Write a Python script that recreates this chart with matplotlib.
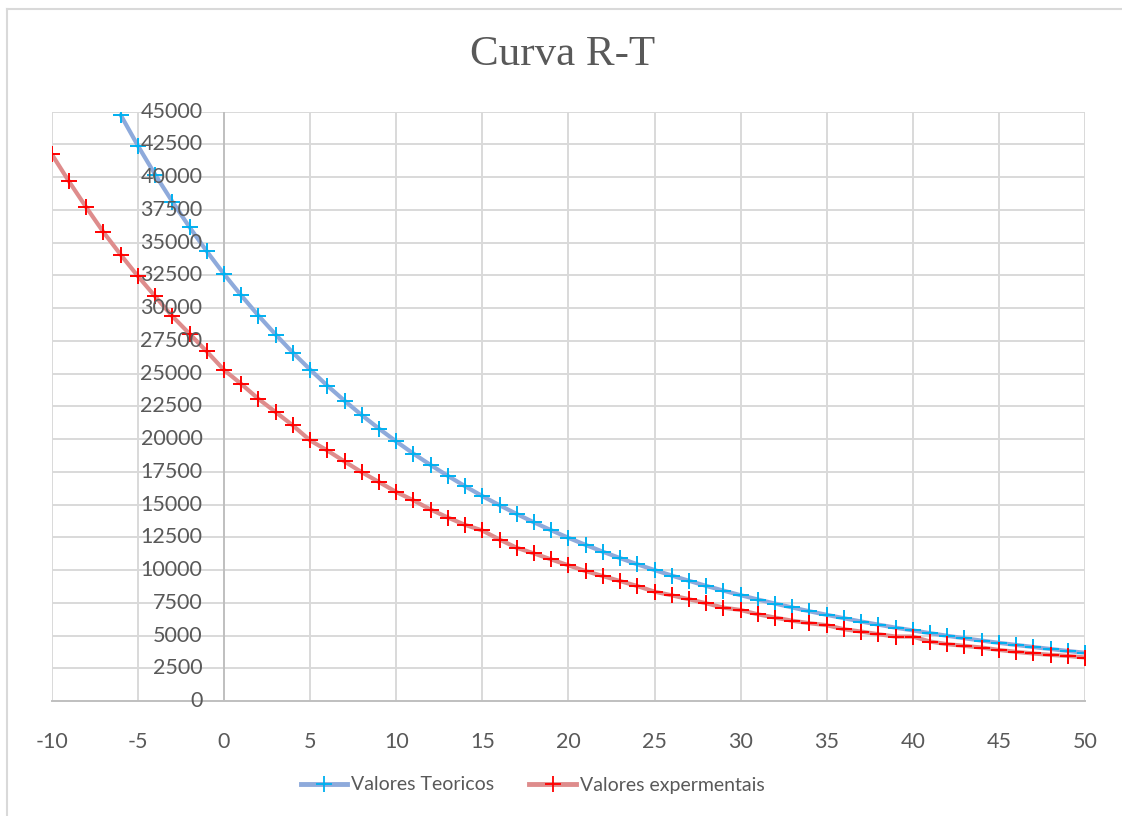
import matplotlib.pyplot as plt
from matplotlib.lines import Line2D
import numpy as np

# Temperature (degC) and resistance (ohm)
temp_teo = list(range(-6, 51))
r_teo = [44750, 42400, 40200, 38130, 36180, 34340, 32600, 30970, 29430, 27980,
         26600, 25310, 24080, 22930, 21830, 20800, 19820, 18890, 18020, 17190,
         16400, 15650, 14950, 14280, 13640, 13040, 12460, 11920, 11400, 10910,
         10440, 10000, 9580, 9180, 8790, 8430, 8080, 7750, 7440, 7140,
         6850, 6580, 6320, 6070, 5830, 5600, 5390, 5180, 4980, 4790,
         4610, 4440, 4280, 4120, 3970, 3820, 3680]

temp_exp = list(range(-10, 51))
r_exp = [41750, 39670, 37700, 35800, 34080, 32440, 30900, 29380, 28040, 26690,
         25280, 24210, 23070, 22060, 21040, 19900, 19130, 18290, 17470, 16720,
         15960, 15320, 14620, 14010, 13450, 13020, 12330, 11700, 11270, 10810,
         10360, 9920, 9540, 9160, 8780, 8350, 8070, 7770, 7460, 7130,
         6950, 6620, 6370, 6130, 5940, 5790, 5480, 5300, 5100, 4920,
         4920, 4540, 4340, 4210, 4080, 3900, 3750, 3630, 3520, 3440, 3320]

x_ticks = list(range(-10, 51, 5))
y_ticks = list(range(0, 45001, 2500))

title = 'Curva R-T'
label_teo = 'Valores Teoricos'
label_exp = 'Valores expermentais'

TXT = '#595959'
GRID = '#D9D9D9'
LINE_TEO, MARK_TEO = '#8EAADB', '#00B0F0'
LINE_EXP, MARK_EXP = '#DE8C8C', '#FF0000'

plt.rcParams['font.family'] = ['Lato', 'DejaVu Sans']

fig = plt.figure(figsize=(11.22, 8.16), dpi=100)
ax = fig.add_axes([51.8 / 1122, 1 - 701 / 816, (1085 - 51.8) / 1122, (701 - 111.7) / 816])

# chart frame (only left/top edges fall inside the picture)
fig.add_artist(Line2D([7 / 1122, 7 / 1122], [0, 1 - 8.5 / 816], color=GRID, lw=1.5))
fig.add_artist(Line2D([7 / 1122, 1], [1 - 8.5 / 816, 1 - 8.5 / 816], color=GRID, lw=1.5))

ax.set_xlim(-10, 50)
ax.set_ylim(0, 45000)

# grid drawn by hand so it stays under the curves
for yv in y_ticks[1:]:
    ax.axhline(yv, color=GRID, lw=1.4, zorder=0.5)
for xv in x_ticks:
    if xv != 0:
        ax.axvline(xv, color=GRID, lw=1.4, zorder=0.5)
ax.axvline(0, color='#BFBFBF', lw=1.4, zorder=0.6)

ax.plot(temp_teo, r_teo, color=LINE_TEO, lw=3, solid_capstyle='round', zorder=2)
ax.plot(temp_teo, r_teo, ls='none', marker='+', ms=12, mew=1.4, color=MARK_TEO, zorder=3)
ax.plot(temp_exp, r_exp, color=LINE_EXP, lw=3, solid_capstyle='round', zorder=2)
ax.plot(temp_exp, r_exp, ls='none', marker='+', ms=12, mew=1.4, color=MARK_EXP, zorder=3)

ax.set_axisbelow(False)
for side in ['top', 'right', 'left']:
    ax.spines[side].set_visible(False)
ax.spines['bottom'].set_color('#BFBFBF')
ax.spines['bottom'].set_linewidth(1.4)

ax.set_xticks(x_ticks)
ax.set_xticklabels([str(v) for v in x_ticks])
ax.tick_params(axis='x', length=0, pad=22, labelsize=15.5, labelcolor=TXT)
ax.set_yticks([])
for yv in y_ticks:
    ax.text(-1.25, yv, str(yv), ha='right', va='center', fontsize=15.5,
            color=TXT, zorder=4)

fig.text(563 / 1122, 1 - 55 / 816, title, ha='center', va='center',
         fontsize=31, color=TXT, family='Liberation Serif')

handles = [
    Line2D([], [], color=LINE_TEO, lw=3.5, marker='+', ms=11, mew=1.3,
           markeredgecolor=MARK_TEO),
    Line2D([], [], color=LINE_EXP, lw=3.5, marker='+', ms=11, mew=1.3,
           markeredgecolor=MARK_EXP),
]
leg = fig.legend(handles, [label_teo, label_exp], loc='center',
                 bbox_to_anchor=(532.5 / 1122, 1 - 785 / 816), ncol=2, frameon=False,
                 fontsize=14, handlelength=2.4, handletextpad=0.2, columnspacing=1.8)
for t in leg.get_texts():
    t.set_color(TXT)

fig.savefig('out.png', dpi=100)
